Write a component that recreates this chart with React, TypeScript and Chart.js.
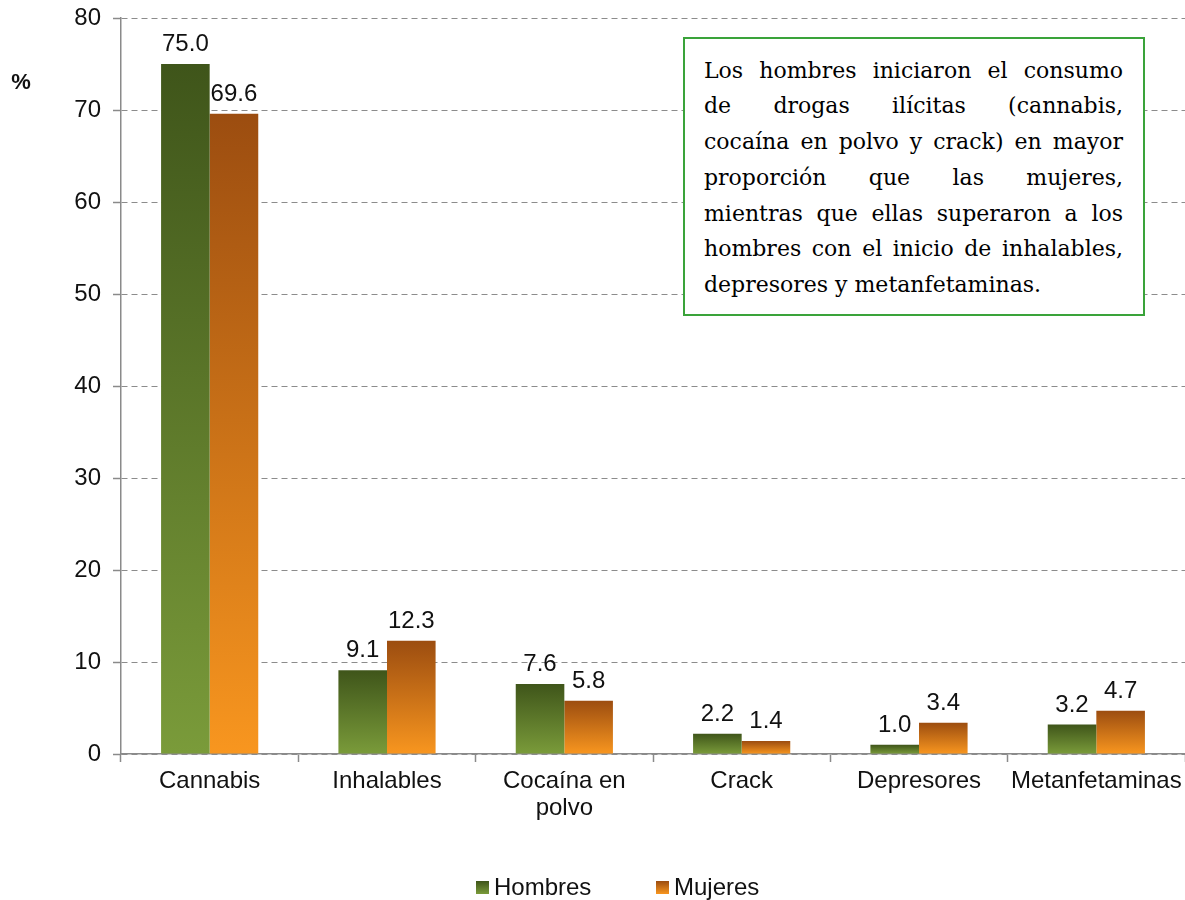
import React, { useEffect, useRef } from 'react';
import { Chart, registerables } from 'chart.js';

Chart.register(...registerables);

const categories: (string | string[])[] = ['Cannabis', 'Inhalables', ['Cocaína en', 'polvo'], 'Crack', 'Depresores', 'Metanfetaminas'];
const hombres = [75.0, 9.1, 7.6, 2.2, 1.0, 3.2];
const mujeres = [69.6, 12.3, 5.8, 1.4, 3.4, 4.7];
const seriesNames = ['Hombres', 'Mujeres'];
const yMin = 0;
const yMax = 80;
const yStep = 10;
const yTitle = '%';
const noteLines = [
  'Los hombres iniciaron el consumo',
  'de drogas ilícitas (cannabis,',
  'cocaína en polvo y crack) en mayor',
  'proporción que las mujeres,',
  'mientras  que ellas superaron a los',
  'hombres con el inicio de inhalables,',
  'depresores y metanfetaminas.',
];

const GREEN_TOP = '#3f551a';
const GREEN_BOT = '#7a9b3a';
const ORANGE_TOP = '#9c4d10';
const ORANGE_BOT = '#f8961f';
const FONT = '"Liberation Sans", Arial, sans-serif';
const FS = 24;

function barGradient(top: string, bottom: string) {
  return (ctx: any) => {
    const chart = ctx.chart;
    const y = chart.scales && chart.scales.y;
    if (!y || ctx.type !== 'data' || !chart.chartArea) return bottom;
    const yTop = y.getPixelForValue(ctx.raw as number);
    const yBase = y.getPixelForValue(0);
    if (!isFinite(yTop) || !isFinite(yBase) || Math.abs(yBase - yTop) < 0.5) return bottom;
    const g = chart.ctx.createLinearGradient(0, yTop, 0, yBase);
    g.addColorStop(0, top);
    g.addColorStop(1, bottom);
    return g;
  };
}

const valueLabels = {
  id: 'valueLabels',
  afterDatasetsDraw(chart: any) {
    const ctx = chart.ctx;
    ctx.save();
    ctx.font = `${FS}px ${FONT}`;
    ctx.fillStyle = '#111';
    ctx.textAlign = 'center';
    ctx.textBaseline = 'alphabetic';
    chart.data.datasets.forEach((ds: any, di: number) => {
      const meta = chart.getDatasetMeta(di);
      meta.data.forEach((el: any, i: number) => {
        ctx.fillText(Number(ds.data[i]).toFixed(1), el.x, el.y - 13);
      });
    });
    ctx.restore();
  },
};

const extras = {
  id: 'extras',
  afterDraw(chart: any) {
    const ctx = chart.ctx;
    ctx.save();
    ctx.font = `bold 22px ${FONT}`;
    ctx.fillStyle = '#111';
    ctx.textAlign = 'center';
    ctx.textBaseline = 'middle';
    ctx.fillText(yTitle, 21, 83);
    const colors = [[GREEN_TOP, GREEN_BOT], [ORANGE_TOP, ORANGE_BOT]];
    const starts = [476, 656];
    const cy = 887;
    ctx.font = `${FS}px ${FONT}`;
    ctx.textAlign = 'left';
    seriesNames.forEach((name, i) => {
      const x = starts[i];
      const g = ctx.createLinearGradient(0, cy - 6, 0, cy + 7);
      g.addColorStop(0, colors[i][0]);
      g.addColorStop(1, colors[i][1]);
      ctx.fillStyle = g;
      ctx.fillRect(x, cy - 6, 13, 13);
      ctx.fillStyle = '#111';
      ctx.fillText(name, x + 18, cy + 1);
    });
    ctx.restore();
  },
};

export default function App() {
  const ref = useRef<HTMLCanvasElement | null>(null);
  useEffect(() => {
    if (!ref.current) return;
    const chart = new Chart(ref.current, {
      type: 'bar',
      data: {
        labels: categories as any,
        datasets: [
          { label: seriesNames[0], data: hombres, backgroundColor: barGradient(GREEN_TOP, GREEN_BOT) as any, categoryPercentage: 0.548, barPercentage: 1 },
          { label: seriesNames[1], data: mujeres, backgroundColor: barGradient(ORANGE_TOP, ORANGE_BOT) as any, categoryPercentage: 0.548, barPercentage: 1 },
        ],
      },
      options: {
        animation: false,
        responsive: true,
        maintainAspectRatio: false,
        layout: { padding: { top: 18, right: 0, bottom: 0, left: 0 } },
        plugins: { legend: { display: false }, tooltip: { enabled: false } },
        scales: {
          x: {
            grid: { display: true, drawOnChartArea: false, drawTicks: true, tickLength: 8, tickColor: '#8a8a8a', tickWidth: 1.5, offset: true },
            border: { display: true, color: '#8a8a8a', width: 1.5 },
            ticks: { color: '#111', font: { family: FONT, size: FS, lineHeight: 1.125 }, padding: 6, maxRotation: 0, autoSkip: false },
            afterFit(scale: any) { scale.height = 146; scale.paddingLeft = 0; scale.paddingRight = 0; },
          },
          y: {
            min: yMin,
            max: yMax,
            grid: { color: '#8c8c8c', lineWidth: 1, drawTicks: true, tickLength: 8, tickColor: '#8a8a8a', tickWidth: 1.5 },
            border: { display: true, color: '#8a8a8a', width: 1.5, dash: [6, 4] },
            ticks: { stepSize: yStep, color: '#111', font: { family: FONT, size: FS }, padding: 12 },
            afterFit(scale: any) { scale.width = 121; scale.paddingTop = 0; scale.paddingBottom = 0; },
          },
        },
      },
      plugins: [valueLabels, extras],
    });
    return () => chart.destroy();
  }, []);

  return (
    <div style={{ position: 'absolute', left: 0, top: 0, width: 1185, height: 900, background: '#fff' }}>
      <canvas ref={ref} />
      <div
        style={{
          position: 'absolute', left: 683, top: 37, width: 462, height: 279, boxSizing: 'border-box',
          border: '2px solid #3aa33a', background: '#fff', padding: '13.5px 20px 0 19px',
          fontFamily: '"DejaVu Serif", "Liberation Serif", serif', fontSize: 22, lineHeight: '35.8px', color: '#000',
        }}
      >
        {noteLines.map((line, i) => (
          <div
            key={i}
            style={{
              textAlign: i < noteLines.length - 1 ? 'justify' : 'left',
              textAlignLast: i < noteLines.length - 1 ? 'justify' : 'left',
              whiteSpace: 'nowrap',
            } as any}
          >
            {line}
          </div>
        ))}
      </div>
    </div>
  );
}
